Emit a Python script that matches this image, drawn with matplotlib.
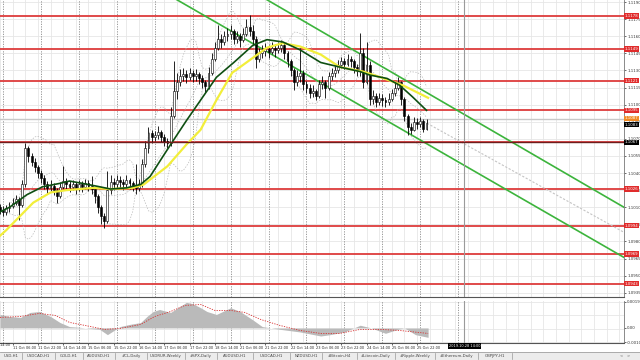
import numpy as np
import matplotlib
matplotlib.use('Agg')
import matplotlib.pyplot as plt
import pandas as pd

# ---------------- data (2-hour candles, x in hours) ----------------
first_open = 1.1010
close = [1.1008,1.1006,1.1009,1.1011,1.1014,1.1017,1.1012,1.1030,1.1062,1.1055,
         1.1050,1.1045,1.1040,1.1036,1.1030,1.1027,1.1029,1.1025,1.1020,1.1028,
         1.1033,1.1030,1.1028,1.1030,1.1027,1.1030,1.1028,1.1031,1.1029,1.1026,
         1.1020,1.1010,1.1002,1.0998,1.1025,1.1032,1.1030,1.1034,1.1032,1.1030,
         1.1034,1.1031,1.1029,1.1027,1.1030,1.1048,1.1062,1.1075,1.1072,1.1073,
         1.1076,1.1072,1.1068,1.1066,1.1090,1.1112,1.1120,1.1125,1.1127,1.1124,
         1.1128,1.1125,1.1127,1.1123,1.1120,1.1116,1.1128,1.1140,1.1150,1.1158,
         1.1155,1.1160,1.1162,1.1165,1.1158,1.1160,1.1157,1.1162,1.1168,1.1165,
         1.1158,1.1140,1.1145,1.1147,1.1149,1.1146,1.1150,1.1148,1.1150,1.1152,
         1.1145,1.1138,1.1130,1.1120,1.1125,1.1128,1.1118,1.1115,1.1110,1.1112,
         1.1108,1.1118,1.1120,1.1115,1.1125,1.1128,1.1130,1.1135,1.1138,1.1136,
         1.1140,1.1138,1.1133,1.1130,1.1145,1.1120,1.1135,1.1105,1.1108,1.1102,
         1.1106,1.1104,1.1102,1.1105,1.1110,1.1115,1.1120,1.1105,1.1090,1.1080,
         1.1078,1.1085,1.1083,1.1086,1.1079,1.1084]
high = [1.1013,1.1011,1.1012,1.1015,1.1018,1.1021,1.1019,1.1034,1.1066,1.1064,
        1.1058,1.1053,1.1047,1.1043,1.1038,1.1033,1.1034,1.1031,1.1027,1.1032,
        1.1046,1.1036,1.1033,1.1034,1.1032,1.1034,1.1033,1.1035,1.1034,1.1037,
        1.1028,1.1022,1.1012,1.1005,1.1042,1.1038,1.1036,1.1038,1.1037,1.1035,
        1.1038,1.1036,1.1033,1.1048,1.1035,1.1052,1.1068,1.1080,1.1078,1.1077,
        1.1081,1.1078,1.1074,1.1071,1.1098,1.1138,1.1128,1.1131,1.1132,1.1130,
        1.1132,1.1130,1.1131,1.1129,1.1126,1.1122,1.1133,1.1145,1.1155,1.1170,
        1.1162,1.1165,1.1167,1.1170,1.1166,1.1165,1.1163,1.1167,1.1175,1.1179,
        1.1170,1.1160,1.1150,1.1152,1.1154,1.1152,1.1155,1.1153,1.1155,1.1157,
        1.1154,1.1147,1.1140,1.1132,1.1130,1.1150,1.1130,1.1121,1.1118,1.1117,
        1.1114,1.1122,1.1125,1.1122,1.1129,1.1132,1.1134,1.1139,1.1142,1.1141,
        1.1144,1.1143,1.1140,1.1136,1.1163,1.1150,1.1155,1.1138,1.1113,1.1110,
        1.1110,1.1109,1.1107,1.1110,1.1114,1.1119,1.1124,1.1121,1.1107,1.1092,
        1.1084,1.1089,1.1088,1.1089,1.1087,1.1087]
low = [1.1004,1.1002,1.1003,1.1006,1.1009,1.1012,1.0999,1.1010,1.1028,1.1050,
       1.1046,1.1041,1.1036,1.1031,1.1026,1.1022,1.1024,1.1021,1.1014,1.1018,
       1.1026,1.1025,1.1023,1.1025,1.1022,1.1024,1.1023,1.1026,1.1024,1.1022,
       1.1014,1.1005,1.0995,1.0992,1.0996,1.1022,1.1025,1.1027,1.1027,1.1025,
       1.1028,1.1026,1.1024,1.1022,1.1024,1.1028,1.1045,1.1058,1.1066,1.1068,
       1.1070,1.1067,1.1064,1.1062,1.1064,1.1088,1.1105,1.1116,1.1121,1.1119,
       1.1122,1.1120,1.1121,1.1118,1.1115,1.1110,1.1114,1.1126,1.1138,1.1148,
       1.1150,1.1152,1.1156,1.1158,1.1153,1.1154,1.1151,1.1155,1.1160,1.1160,
       1.1152,1.1132,1.1137,1.1141,1.1143,1.1141,1.1144,1.1142,1.1145,1.1146,
       1.1140,1.1133,1.1125,1.1113,1.1116,1.1120,1.1113,1.1110,1.1106,1.1107,
       1.1104,1.1106,1.1114,1.1106,1.1113,1.1122,1.1124,1.1128,1.1132,1.1131,
       1.1134,1.1133,1.1128,1.1125,1.1125,1.1115,1.1118,1.1100,1.1101,1.1098,
       1.1100,1.1099,1.1098,1.1100,1.1103,1.1108,1.1113,1.1100,1.1086,1.1073,
       1.1074,1.1077,1.1079,1.1080,1.1076,1.1078]

# moving averages (hour, price)
green_h = [0,6,17,27,38,44,52,63,70,80,89,95,101,108,118,127,137,148,160,169,179,190,203,215,228,234,245,253,261,270]
green_v = [1.1006,1.1010,1.1021,1.1028,1.1031,1.1033,1.1031,1.1028,1.1026,1.1027,1.1030,1.1037,1.1050,1.1065,
           1.1086,1.1104,1.1124,1.1137,1.1152,1.1157,1.1155,1.1148,1.1137,1.1133,1.1129,1.1126,1.1123,1.1117,1.1107,1.1095]
yellow_h = [0,4,21,32,42,59,70,84,91,106,118,127,137,147,158,169,179,190,203,215,230,241,255,271]
yellow_v = [1.0985,1.0990,1.1014,1.1023,1.1025,1.1027,1.1026,1.1027,1.1030,1.1046,1.1065,1.1078,1.1104,1.1128,
            1.1139,1.1150,1.1154,1.1151,1.1144,1.1133,1.1129,1.1124,1.1117,1.1106]

# MACD (hour, value)
macd_h = [0,6,13,19,25,32,38,44,51,57,63,68,72,76,82,89,93,97,101,108,114,118,122,127,131,137,146,152,160,166,
          177,190,203,209,218,228,235,244,252,256,263,271]
macd_v = [0.0010,0.00085,0.00078,0.00115,0.00122,0.00085,0.0004,0.0001,0.00004,-0.00004,-0.0001,-0.0005,-0.0002,
          0.0001,0.00026,0.0004,0.00085,0.00122,0.00137,0.00115,0.0016,0.0019,0.0018,0.0015,0.00122,0.0010,0.0015,
          0.00122,0.0006,0.0001,-0.0001,-0.0003,-0.0006,-0.0005,-0.0003,0.0002,0.0,-0.0004,-0.0001,0.0,-0.0005,-0.0007]
signal_h = [0,13,25,35,44,57,66,76,89,98,108,117,127,136,146,155,165,177,190,203,215,228,241,253,271]
signal_v = [0.00078,0.00085,0.00108,0.00093,0.00041,0.00011,-0.00011,-0.00004,0.00026,0.00085,0.00122,0.00167,
            0.00174,0.0013,0.0013,0.00115,0.00063,0.00019,-0.00019,-0.00041,-0.00041,-0.00011,-0.00011,-0.00019,-0.00041]

levels = [1.1178,1.1149,1.1121,1.1095,1.1067,1.1026,1.0994,1.0969,1.0943]
level_labels = ['1.1178','1.1149','1.1121','1.1095','1.1067','1.1026','1.0994','1.0969','1.0943']
price_ticks = [1.1190,1.1175,1.1160,1.1145,1.1130,1.1115,1.1100,1.1085,1.1070,1.1055,1.1040,1.1025,1.1010,
               1.0995,1.0980,1.0965,1.0950,1.0935]
channel_a = ([169,395],[1.1192,1.1010])
channel_b = ([112,395],[1.1192,1.0966])
mid_line = ([266,395],[1.1087,1.0988])
ask_price = 1.1087
bid_price = 1.1083
cross_price = 1.1067
day_sep_h = [2,26,50,74,98,122,146,170,194,218,242,266,290]
time_tick_h = [-8,8,24,40,56,72,88,104,120,136,152,168,184,200,216,232,248,264]
time_labels = ['10 Oct 14:00','11 Oct 06:00','11 Oct 22:00','14 Oct 14:00','15 Oct 06:00','15 Oct 22:00',
               '16 Oct 14:00','17 Oct 06:00','17 Oct 22:00','18 Oct 14:00','21 Oct 06:00','21 Oct 22:00',
               '22 Oct 14:00','23 Oct 06:00','23 Oct 22:00','24 Oct 14:00','25 Oct 06:00','25 Oct 22:00']
cross_h = 294
cross_label = '2019.10.28 14:00'
tabs = ['USD,H1','USDCAD,H1','GOLD,H1','AUDUSD,H1','#CL,Daily','USDRUR,Weekly','#SPX,Daily','AUDUSD,H1',
        'USDCAD,H1','NZDUSD,H1','#Bitcoin,H4','#Litecoin,Daily','#Ripple,Weekly','#Ethereum,Daily','GBPJPY,H1']
tab_edges = [0,22,55,83,115,147,185,217,253,290,322,357,395,435,478,512]

# ---------------- figure ----------------
W, H = 640, 360
fig = plt.figure(figsize=(6.4, 3.6), dpi=100)
fig.patch.set_facecolor('white')
right_px = 624
XMAX = 395

def fx(px): return px / W
def fy(py): return 1 - py / H

ax = fig.add_axes([0, fy(297), fx(right_px), 297 / H])
axm = fig.add_axes([0, fy(343), fx(right_px), 42 / H], sharex=ax)

grid_c = '#e6e6e6'
for p in price_ticks:
    ax.axhline(p, color=grid_c, lw=0.6, zorder=0)
for h in np.arange(0, XMAX, 8):
    ax.axvline(h, color=grid_c, lw=0.6, zorder=0)
    axm.axvline(h, color=grid_c, lw=0.6, zorder=0)
for p in np.linspace(-0.00108, 0.00196, 4):
    axm.axhline(p, color=grid_c, lw=0.6, zorder=0)
for h in day_sep_h:
    ax.axvline(h, color='#8a8a8a', lw=0.6, ls=(0, (1.5, 1.5)), zorder=1)
    axm.axvline(h, color='#8a8a8a', lw=0.6, ls=(0, (1.5, 1.5)), zorder=1)

for p in levels:
    ax.axhline(p, color='#dd3b3b', lw=1.3, zorder=2)
ax.axhline(ask_price, color='#c8c8c8', lw=1.0, zorder=2)

# bollinger bands computed from closes
hours = np.arange(len(close)) * 2
s = pd.Series(close)
mid = s.rolling(10, min_periods=3).mean()
sd = s.rolling(10, min_periods=3).std()
for band in (mid + 2 * sd, mid - 2 * sd, mid):
    ax.plot(hours, band, color='#b8b8b8', lw=0.5, ls=(0, (2, 2)), zorder=3)

ax.plot(*channel_a, color='#3cb43c', lw=1.2, zorder=4)
ax.plot(*channel_b, color='#3cb43c', lw=1.2, zorder=4)
ax.plot(*mid_line, color='#c4c4c4', lw=0.8, ls=(0, (2, 1.5)), zorder=4)

opens = [first_open] + close[:-1]
for h, o, c, hi, lo in zip(hours, opens, close, high, low):
    ax.vlines(h, lo, hi, color='black', lw=0.6, zorder=5)
    bottom = min(o, c)
    height = max(abs(c - o), 0.00005)
    ax.bar(h, height, bottom=bottom, width=1.2, color='white' if c >= o else 'black',
           edgecolor='black', linewidth=0.4, zorder=6)

ax.plot(yellow_h, yellow_v, color='#f2ee3a', lw=1.6, zorder=7)
ax.plot(green_h, green_v, color='#0e4f12', lw=1.2, zorder=8)

ax.axvline(cross_h, color='#9a9a9a', lw=0.8, zorder=9)
axm.axvline(cross_h, color='#9a9a9a', lw=0.8, zorder=9)
ax.axhline(cross_price, color='#6e1e1e', lw=1.0, zorder=9)

for a in (ax, axm):
    a.yaxis.tick_right()
    a.tick_params(axis='y', length=1.5, width=0.5, labelsize=2.8, pad=0.8, colors='#333333')
    a.tick_params(axis='x', length=0, labelbottom=False)
    for sp in ('top', 'left'):
        a.spines[sp].set_visible(False)
    a.spines['right'].set_color('#777777')
    a.spines['bottom'].set_color('#555555')
    a.spines['right'].set_linewidth(0.6)
    a.set_facecolor('white')
ax.set_yticks(price_ticks)
ax.set_yticklabels([f'{p:.4f}' for p in price_ticks])
ax.set_ylim(1.09313, 1.11918)

def tag(a, y, text, fc, z=20):
    a.text(1.0015, y, text, transform=a.get_yaxis_transform(), fontsize=2.8, color='white', va='center',
           ha='left', bbox=dict(boxstyle='square,pad=0.2', fc=fc, ec='none'), clip_on=False, zorder=z)
for p, t in zip(levels, level_labels):
    tag(ax, p, t, 'black' if abs(p - cross_price) < 1e-6 else '#e02c2c')
tag(ax, ask_price + 0.0001, f'{ask_price:.4f}', '#f08a24')
tag(ax, bid_price - 0.00005, f'{bid_price:.4f}', 'black', 21)

# MACD panel
axm.fill_between(macd_h, 0, macd_v, color='#bababa', lw=0, zorder=3)
axm.plot(signal_h, signal_v, color='#d83030', lw=0.6, ls=(0, (1.5, 1.5)), zorder=4)
axm.set_yticks([0.00196, 0.0, -0.00108])
axm.set_yticklabels(['0.00196', '0.00', '-0.00108'])
axm.set_ylim(-0.00112, 0.00200)

axm.set_xticks(time_tick_h)
axm.set_xticklabels(time_labels)
axm.tick_params(axis='x', labelbottom=True, length=1.5, width=0.5, labelsize=2.5, pad=0.6, colors='#222222')
for lab in axm.get_xticklabels():
    lab.set_ha('left')
ax.set_xlim(0, XMAX)
axm.text(-8, -0.00112, time_labels[0], transform=axm.transData, fontsize=2.5, color='#222222',
         ha='left', va='top', clip_on=False)
axm.text(cross_h, -0.00118, cross_label, transform=axm.transData, fontsize=2.5, color='white',
         ha='center', va='top', bbox=dict(boxstyle='square,pad=0.25', fc='black', ec='none'),
         clip_on=False, zorder=20)

# tab bar
axt = fig.add_axes([0, 0, 1, 8 / H])
axt.set_xlim(0, W)
axt.set_ylim(0, 8)
axt.set_facecolor('#ececec')
axt.set_xticks([])
axt.set_yticks([])
for sp in axt.spines.values():
    sp.set_visible(False)
axt.axhline(7.8, color='#a0a0a0', lw=0.6)
for i, t in enumerate(tabs):
    axt.text((tab_edges[i] + tab_edges[i + 1]) / 2, 3.8, t, fontsize=2.8, color='#444444',
             va='center', ha='center')
    axt.plot([tab_edges[i + 1], tab_edges[i + 1]], [1, 7], color='#999999', lw=0.5)
axt.text(620, 3.8, '<   >', fontsize=2.8, color='#666666', va='center', ha='left')

fig.savefig('out.png', dpi=100)
